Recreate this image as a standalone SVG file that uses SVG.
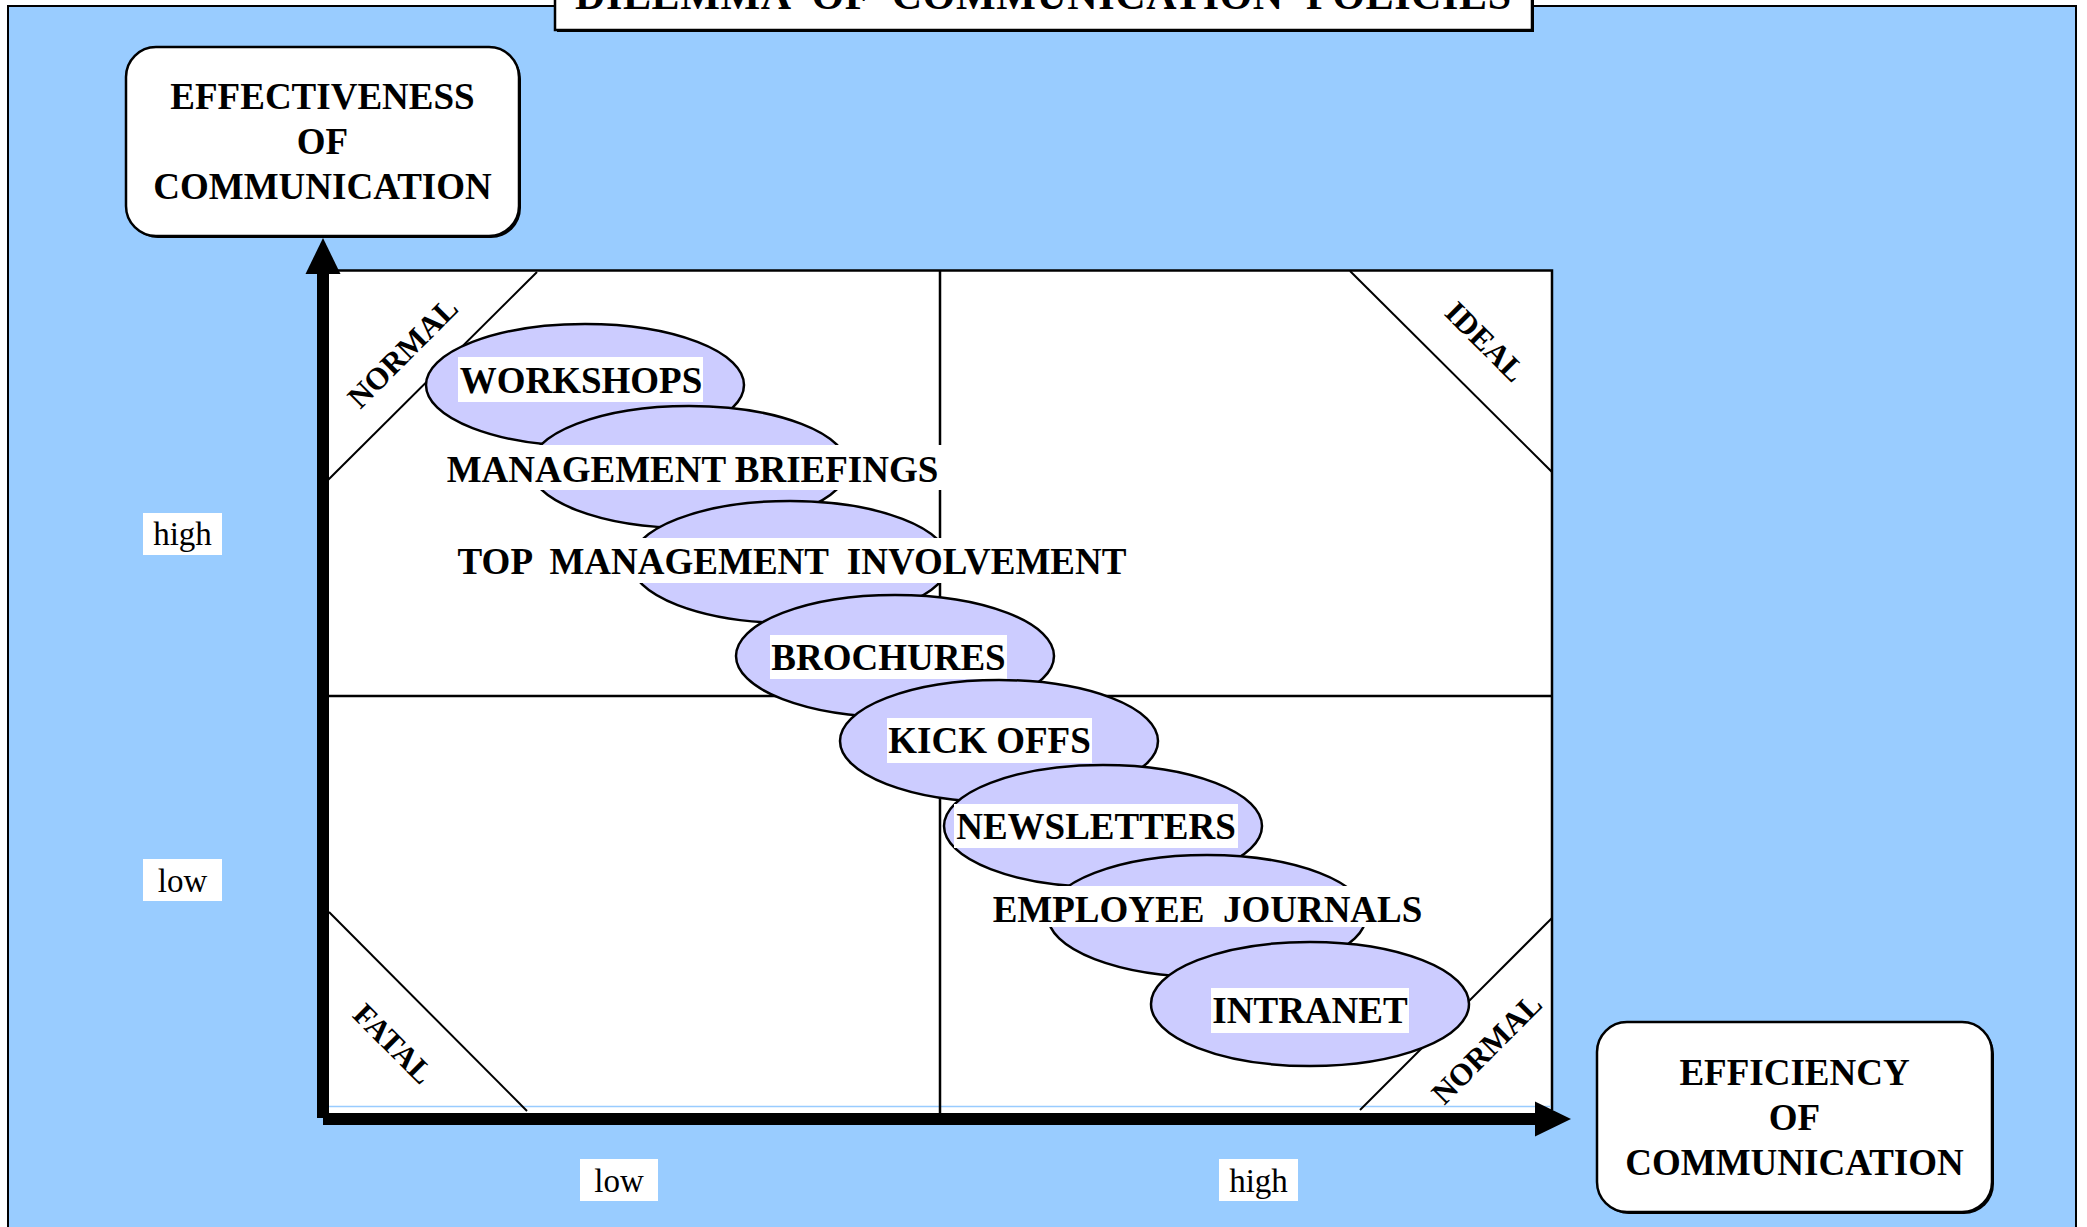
<svg xmlns="http://www.w3.org/2000/svg" width="2087" height="1227" viewBox="0 0 2087 1227">
<defs>
<style>
.bold{font-family:"Liberation Serif","Times New Roman",serif;font-weight:bold;fill:#000}
.reg{font-family:"Liberation Serif","Times New Roman",serif;fill:#000}
.lab{font-size:37px;text-anchor:middle}
.box{fill:#fff;stroke:#000;stroke-width:2.5}
.shadow{fill:#000}
.ell{fill:#CCCCFF;stroke:#000;stroke-width:2.5}
.bg{fill:#fff}
.grid{stroke:#000;stroke-width:2.5;fill:none}
.diag{stroke:#000;stroke-width:2;fill:none}
.corner{font-size:31px;text-anchor:middle}
.val{font-size:33px;text-anchor:middle}
.axis{stroke:#000;stroke-width:12;fill:none;marker-end:url(#ah)}
</style>
<marker id="ah" markerUnits="userSpaceOnUse" markerWidth="36" markerHeight="36" refX="0" refY="17.5" orient="auto" overflow="visible">
<path d="M0,0 L36,17.5 L0,35 z" fill="#000"/>
</marker>
</defs>
<rect x="0" y="0" width="2087" height="1227" fill="#fff"/>
<rect x="8" y="6" width="2068" height="1240" fill="#99CCFF" stroke="#000" stroke-width="2"/>

<g id="title">
<rect class="shadow" x="557" y="-38" width="977" height="70"/>
<rect class="box" x="555" y="-40" width="977" height="70"/>
<text class="bold" x="1043" y="9" font-size="42" text-anchor="middle" xml:space="preserve" textLength="936" lengthAdjust="spacing">DILEMMA  OF  COMMUNICATION  POLICIES</text>
</g>

<g id="effectiveness">
<rect class="shadow" x="128" y="49" width="393" height="189" rx="30"/>
<rect class="box" x="126" y="47" width="393" height="189" rx="30"/>
<text class="bold lab" x="322.5" y="109">EFFECTIVENESS</text>
<text class="bold lab" x="322.5" y="154">OF</text>
<text class="bold lab" x="322.5" y="199">COMMUNICATION</text>
</g>

<g id="efficiency">
<rect class="shadow" x="1599" y="1024" width="395" height="190" rx="30"/>
<rect class="box" x="1597" y="1022" width="395" height="190" rx="30"/>
<text class="bold lab" x="1794.5" y="1085">EFFICIENCY</text>
<text class="bold lab" x="1794.5" y="1130">OF</text>
<text class="bold lab" x="1794.5" y="1175">COMMUNICATION</text>
</g>

<g id="plot">
<rect x="326" y="270" width="1226" height="843" fill="#fff"/>
<path class="grid" d="M326,270.5 H1552 V1110"/>
<line x1="329" y1="1106.5" x2="1551" y2="1106.5" stroke="#99CCFF" stroke-width="1.5"/>
<line class="grid" x1="940" y1="270" x2="940" y2="1113"/>
<line class="grid" x1="326" y1="696" x2="1552" y2="696"/>
<line class="diag" x1="537" y1="272" x2="327" y2="481"/>
<line class="diag" x1="1350" y1="271" x2="1552" y2="472"/>
<line class="diag" x1="329" y1="912" x2="527" y2="1111"/>
<line class="diag" x1="1552" y1="918" x2="1360" y2="1110"/>
</g>

<g id="zone-normal-top">
<text class="bold corner" transform="translate(403,353) rotate(-45)" y="10">NORMAL</text>
</g>
<g id="zone-ideal">
<text class="bold corner" transform="translate(1485,342) rotate(45)" y="10">IDEAL</text>
</g>
<g id="zone-fatal">
<text class="bold corner" transform="translate(393,1044) rotate(45)" y="10">FATAL</text>
</g>
<g id="zone-normal-bottom">
<text class="bold corner" transform="translate(1487,1049) rotate(-45)" y="10">NORMAL</text>
</g>

<g id="workshops">
<ellipse class="ell" cx="585" cy="385" rx="159" ry="61"/>
<rect class="bg" x="458" y="357" width="245" height="45"/>
<text class="bold lab" x="581" y="393">WORKSHOPS</text>
</g>
<g id="management-briefings">
<ellipse class="ell" cx="689" cy="467" rx="159" ry="61"/>
<rect class="bg" x="444" y="445" width="498" height="45"/>
<text class="bold lab" x="692.5" y="482">MANAGEMENT BRIEFINGS</text>
</g>
<g id="top-management-involvement">
<ellipse class="ell" cx="790" cy="562" rx="159" ry="61"/>
<rect class="bg" x="455" y="538" width="674" height="45"/>
<text class="bold lab" x="792" y="574" xml:space="preserve">TOP  MANAGEMENT  INVOLVEMENT</text>
</g>
<g id="brochures">
<ellipse class="ell" cx="895" cy="656" rx="159" ry="61"/>
<rect class="bg" x="770" y="635" width="237" height="44"/>
<text class="bold lab" x="888.5" y="670">BROCHURES</text>
</g>
<g id="kick-offs">
<ellipse class="ell" cx="999" cy="741" rx="159" ry="61"/>
<rect class="bg" x="887" y="718" width="205" height="45"/>
<text class="bold lab" x="989.5" y="753">KICK OFFS</text>
</g>
<g id="newsletters">
<ellipse class="ell" cx="1103" cy="826" rx="159" ry="61"/>
<rect class="bg" x="954" y="804" width="284" height="44"/>
<text class="bold lab" x="1096" y="839">NEWSLETTERS</text>
</g>
<g id="employee-journals">
<ellipse class="ell" cx="1207" cy="916" rx="159" ry="61"/>
<rect class="bg" x="990" y="886" width="435" height="41"/>
<text class="bold lab" x="1207.5" y="922" xml:space="preserve">EMPLOYEE  JOURNALS</text>
</g>
<g id="intranet">
<ellipse class="ell" cx="1310" cy="1004" rx="159" ry="62"/>
<rect class="bg" x="1211" y="988" width="198" height="45"/>
<text class="bold lab" x="1310" y="1023">INTRANET</text>
</g>

<g id="value-labels">
<rect class="bg" x="143" y="513" width="79" height="42"/>
<text class="reg val" x="182.5" y="545">high</text>
<rect class="bg" x="143" y="859" width="79" height="42"/>
<text class="reg val" x="182.5" y="892">low</text>
<rect class="bg" x="580" y="1159" width="78" height="42"/>
<text class="reg val" x="619" y="1192">low</text>
<rect class="bg" x="1219" y="1159" width="79" height="42"/>
<text class="reg val" x="1258.5" y="1192">high</text>
</g>

<g id="connectors">
<path class="axis" d="M323,1118 V274"/>
<path class="axis" d="M323,1119 H1535"/>
</g>
</svg>
